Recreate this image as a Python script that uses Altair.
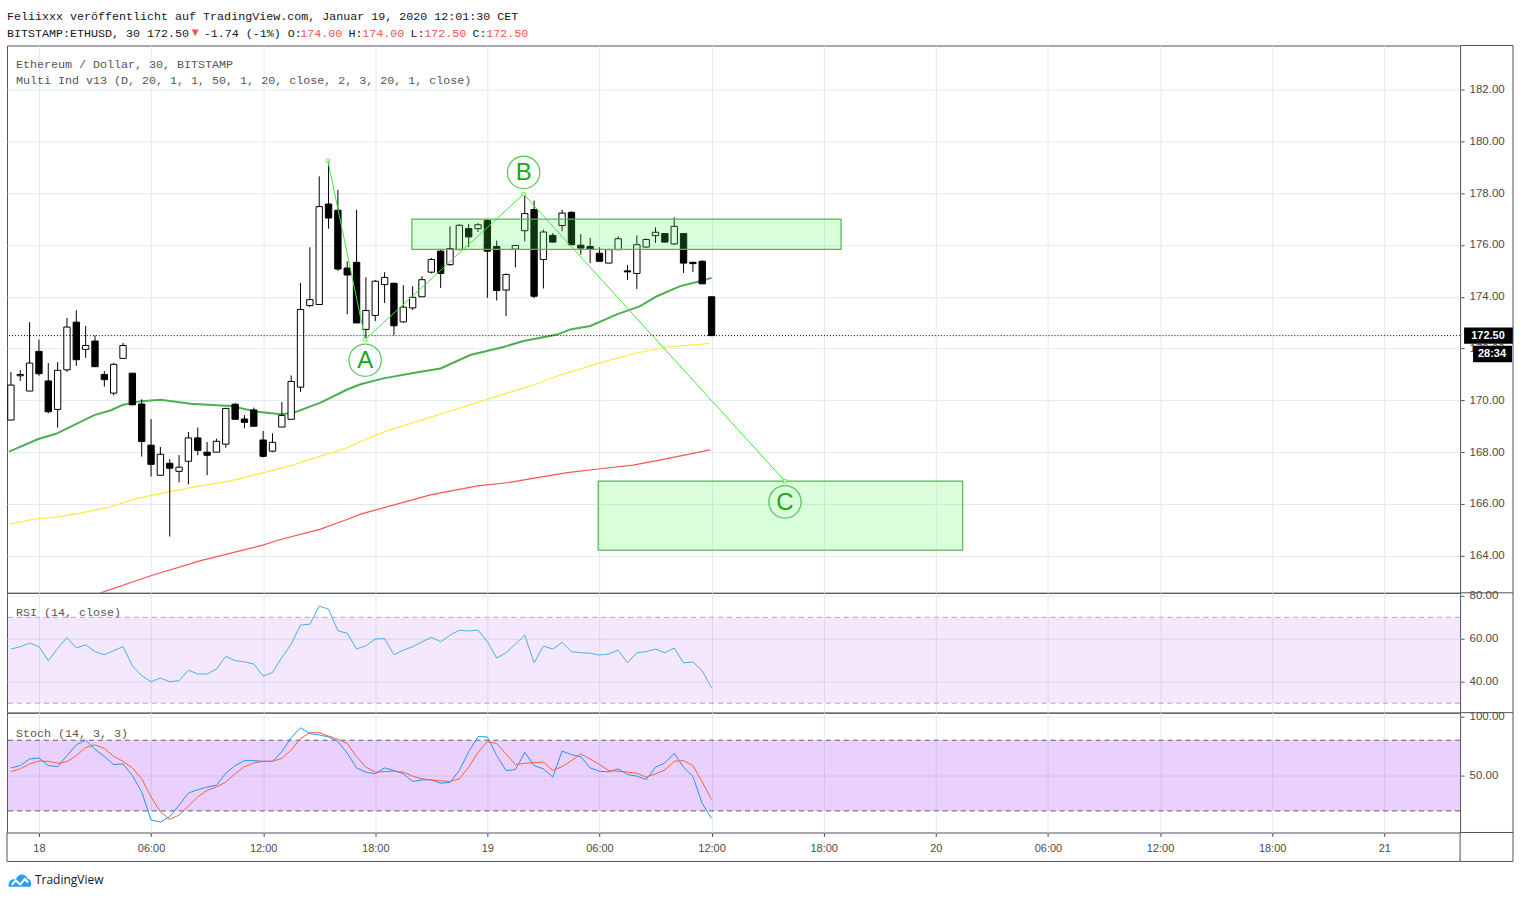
import altair as alt
import pandas as pd

# ---------------- DATA ----------------
# 30-minute candles, index relative to Jan 18 00:00 (i = -3 .. 72)
candle_idx = list(range(-3, 73))
opens = [169.24, 170.95, 170.36, 171.89, 170.75, 169.65, 171.18, 173.02, 171.97, 172.29,
         171.0, 170.28, 171.62, 171.05, 169.86, 168.27, 167.11, 167.57, 167.26, 167.65,
         168.55, 168.0, 168.0, 168.31, 169.85, 169.28, 169.63, 168.47, 168.04, 168.97,
         169.27, 170.51, 173.66, 173.70, 177.58, 177.34, 175.11, 175.33, 172.74, 173.28,
         174.47, 174.52, 173.03, 173.57, 174.0, 174.95, 175.76, 175.24, 175.82, 176.63,
         176.63, 176.95, 175.94, 174.26, 175.84, 176.55, 177.37, 175.44, 176.37, 176.75,
         177.26, 175.99, 175.94, 175.68, 175.3, 175.82, 175.0, 174.9, 175.92, 176.36,
         176.44, 176.04, 176.44, 175.33, 175.37, 174.0]
highs = [171.09, 171.17, 173.02, 172.35, 171.44, 171.48, 173.18, 173.48, 172.87, 172.51,
         171.13, 171.45, 172.22, 171.05, 170.04, 169.28, 168.2, 167.73, 167.89, 168.78,
         168.95, 168.39, 168.52, 169.7, 169.9, 169.43, 169.72, 168.82, 168.73, 169.94,
         170.96, 174.53, 175.91, 178.65, 179.26, 178.13, 175.37, 177.36, 174.75, 174.65,
         174.95, 174.55, 174.45, 174.41, 174.79, 175.5, 175.8, 176.72, 176.8, 176.81,
         176.85, 177.0, 176.17, 174.9, 176.0, 177.96, 177.71, 176.59, 176.46, 177.36,
         177.3, 176.42, 176.27, 175.91, 175.85, 176.33, 175.22, 176.37, 176.25, 176.68,
         176.45, 177.07, 176.45, 175.35, 175.41, 174.0]
lows = [169.24, 170.75, 170.36, 170.95, 169.5, 168.95, 171.1, 171.33, 171.64, 171.3,
        170.53, 170.19, 171.6, 169.8, 167.83, 167.06, 167.1, 164.74, 166.83, 166.76,
        167.88, 167.11, 168.0, 168.17, 169.27, 168.92, 169.0, 167.8, 168.0, 168.97,
        169.27, 170.33, 173.6, 173.7, 176.63, 175.0, 173.32, 172.99, 172.35, 173.06,
        173.76, 172.51, 173.0, 173.49, 174.0, 174.9, 174.34, 175.2, 175.8, 175.92,
        176.5, 173.96, 173.86, 173.25, 175.14, 176.14, 173.95, 174.32, 176.1, 176.53,
        176.0, 175.63, 175.3, 175.37, 175.3, 175.8, 174.65, 174.3, 175.9, 176.08,
        176.1, 176.0, 174.92, 174.96, 174.5, 172.5]
closes = [170.59, 171.0, 171.44, 171.03, 169.56, 171.16, 172.83, 171.57, 172.12, 171.30,
          170.8, 171.39, 172.12, 169.83, 168.41, 167.53, 167.92, 167.38, 167.42, 168.55,
          168.07, 167.88, 168.42, 169.69, 169.27, 169.15, 169.0, 167.84, 168.38, 169.42,
          170.73, 173.51, 173.89, 177.48, 177.04, 175.07, 174.84, 172.99, 173.47, 174.6,
          174.75, 172.88, 173.6, 173.98, 174.66, 175.44, 174.9, 175.86, 176.76, 176.31,
          176.78, 175.76, 174.24, 174.86, 175.98, 177.21, 174.02, 176.5, 176.11, 177.23,
          176.01, 175.88, 175.84, 175.37, 175.82, 176.24, 174.96, 176.01, 176.21, 176.49,
          176.11, 176.72, 175.3, 175.28, 174.5, 172.5]

# moving averages (hours from Jan 18 00:00, price)
ma_green_t = [-1.6, -0.07, 0.91, 1.98, 2.96, 3.85, 4.47, 5.45, 6.52, 8.12, 10.26, 11.69, 12.94,
              13.63, 15.07, 16.5, 17.21, 18.44, 20.04, 21.49, 23.09, 24.86, 25.93, 27.74, 28.44,
              29.51, 30.93, 32.18, 33.07, 34.32, 35.39, 36.0]
ma_green_v = [168.02, 168.5, 168.71, 169.08, 169.43, 169.62, 169.82, 169.97, 170.02, 169.87, 169.78,
              169.56, 169.46, 169.52, 169.91, 170.42, 170.62, 170.85, 171.06, 171.23, 171.75, 172.06,
              172.29, 172.54, 172.74, 172.87, 173.32, 173.64, 174.02, 174.41, 174.6, 174.73]
ma_yellow_t = [-1.6, -0.27, 1.0, 2.07, 3.85, 5.08, 6.34, 8.12, 10.26, 12.03, 13.63, 15.07, 16.5,
               17.21, 18.64, 22.02, 23.98, 26.83, 27.73, 30.04, 31.8, 33.62, 35.92]
ma_yellow_v = [165.22, 165.41, 165.5, 165.63, 165.89, 166.19, 166.38, 166.63, 166.89, 167.21, 167.51,
               167.85, 168.17, 168.41, 168.82, 169.59, 170.04, 170.68, 170.94, 171.45, 171.8, 172.06,
               172.2]
ma_red_t = [2.78, 3.31, 5.99, 8.66, 12.03, 12.78, 15.07, 16.52, 17.21, 19.35, 20.95, 23.47, 25.07,
            26.67, 28.28, 30.04, 31.8, 33.62, 35.92]
ma_red_v = [162.42, 162.57, 163.23, 163.81, 164.42, 164.6, 165.03, 165.41, 165.61, 166.03, 166.35,
            166.7, 166.82, 167.02, 167.21, 167.36, 167.5, 167.75, 168.09]

rsi = [55.2, 56.3, 58.0, 56.3, 49.8, 55.5, 60.6, 55.7, 57.2, 54.0,
       52.6, 54.4, 56.4, 47.4, 42.8, 40.0, 41.7, 40.0, 40.5, 45.4,
       43.6, 43.6, 45.9, 51.8, 49.8, 49.3, 48.2, 42.6, 44.3, 51.3,
       57.5, 66.4, 66.8, 75.2, 73.8, 63.7, 62.6, 55.3, 56.7, 59.9,
       60.1, 52.6, 54.7, 56.3, 58.6, 60.6, 58.6, 61.7, 64.0, 63.6,
       64.0, 58.6, 51.0, 53.5, 57.5, 61.7, 48.8, 56.6, 55.2, 58.3,
       54.0, 53.5, 53.3, 52.4, 52.9, 54.7, 48.8, 53.5, 54.0, 55.2,
       53.5, 55.7, 48.8, 49.2, 45.1, 37.1]
stoch_k = [56.5, 58.5, 64.1, 64.9, 58.5, 57.6, 66.9, 76.1, 80.0, 72.4,
           66.3, 59.3, 59.9, 50.1, 36.1, 12.3, 10.6, 15.1, 24.9, 35.2,
           38.0, 40.3, 41.7, 52.0, 58.5, 62.7, 62.7, 62.1, 62.1, 70.2,
           82.2, 90.6, 85.6, 84.5, 82.8, 78.9, 69.1, 56.4, 52.9, 51.5,
           56.5, 54.3, 51.5, 45.0, 46.4, 46.4, 43.6, 44.2, 54.3, 70.2,
           83.1, 82.8, 66.9, 54.3, 55.1, 69.7, 58.5, 55.7, 48.7, 70.8,
           67.7, 66.0, 56.5, 53.7, 53.1, 55.7, 50.9, 49.5, 46.7, 57.1,
           60.7, 68.8, 57.1, 49.2, 26.3, 13.7]
stoch_d = [53.4, 55.7, 59.9, 62.4, 62.1, 60.4, 61.8, 66.9, 73.8, 76.1,
           73.0, 66.3, 62.1, 56.5, 47.3, 31.9, 19.3, 12.9, 16.5, 24.1,
           31.9, 37.5, 40.3, 44.5, 51.5, 57.6, 60.7, 62.1, 62.1, 64.6,
           71.6, 81.4, 86.4, 86.4, 83.6, 80.8, 77.2, 66.0, 57.1, 52.9,
           53.4, 53.7, 52.9, 49.5, 47.3, 46.2, 45.6, 45.0, 47.3, 57.1,
           69.7, 78.9, 77.2, 68.3, 59.3, 60.4, 61.0, 61.5, 54.3, 57.6,
           62.7, 68.3, 64.1, 59.3, 54.3, 53.7, 52.9, 52.0, 48.7, 51.5,
           54.8, 62.1, 62.7, 58.5, 44.5, 29.7]

# drawings (hours, price)
abc_t = [15.46, 17.46, 25.94, 39.93]
abc_p = [179.26, 172.35, 177.96, 166.88]
label_txt = ["A", "B", "C"]
label_t = [17.46, 25.94, 39.93]
label_p = [171.55, 178.8, 166.08]
box_t0 = [19.96, 29.93]
box_t1 = [42.93, 49.44]
box_p0 = [175.83, 164.22]
box_p1 = [177.0, 166.88]
last_price = 172.5

price_ticks = [164, 166, 168, 170, 172, 174, 176, 178, 180, 182]
time_ticks = [0, 6, 12, 18, 24, 30, 36, 42, 48, 54, 60, 66, 72]

# ---------------- LAYOUT / STYLE ----------------
W = 1455
H_MAIN = 548
H_IND = 120
R = 1508  # outer right frame (relative to plot left)
FRAME = "#50535e"
GRID = "#e3eaf0"
MONO = "Liberation Mono"
SANS = "Liberation Sans"
MONO_SIZE = 11.7

x_dom = [-1.71, 76.06]
xs = alt.Scale(domain=x_dom, nice=False, zero=False)
xa_hidden = alt.Axis(values=time_ticks, labels=False, ticks=False, domain=False, grid=True,
                     gridColor=GRID, title=None)
label_expr = ("datum.value % 24 == 0 ? format(18 + datum.value / 24, 'd') : "
              "(datum.value % 24 < 10 ? '0' : '') + format(datum.value % 24, 'd') + ':00'")
xa_bottom = alt.Axis(values=time_ticks, labelExpr=label_expr, grid=True, gridColor=GRID,
                     ticks=True, tickSize=4, tickColor=FRAME, labelColor="#4b4b4b",
                     labelFontSize=11, labelFont=SANS, labelPadding=6, domain=False,
                     title=None, labelFlush=False)


def yaxis(vals):
    return alt.Axis(orient="right", values=vals, format=".2f", grid=True, gridColor=GRID,
                    tickSize=4, tickColor=FRAME, labelColor="#4b4b4b", labelFontSize=11.5,
                    labelFont=SANS, labelPadding=5, domain=False, title=None)


ys_main = alt.Scale(domain=[162.57, 183.70], nice=False, zero=False)
ya_main = yaxis(price_ticks)
ys_rsi = alt.Scale(domain=[25.6, 81.4], nice=False, zero=False)
ya_rsi = yaxis([40, 60, 80])
ys_st = alt.Scale(domain=[1.69, 103.39], nice=False, zero=False)
ya_st = yaxis([50, 100])

dummy = pd.DataFrame({"a": [0]})


def rule(x0, y0, x1=None, y1=None):
    enc = {"x": alt.value(x0), "y": alt.value(y0)}
    if x1 is not None:
        enc["x2"] = alt.value(x1)
    if y1 is not None:
        enc["y2"] = alt.value(y1)
    return alt.Chart(dummy).mark_rule(color=FRAME, strokeWidth=1).encode(**enc)


# ---------------- MAIN PANEL ----------------
cdf = pd.DataFrame({"i": candle_idx, "o": opens, "h": highs, "l": lows, "c": closes})
cdf["t"] = cdf["i"] * 0.5
cdf["t0"] = cdf["t"] - 0.17
cdf["t1"] = cdf["t"] + 0.17
cdf["blo"] = cdf[["o", "c"]].min(axis=1)
cdf["bhi"] = cdf[["o", "c"]].max(axis=1)
cdf["dir"] = ["up" if c > o else "down" for o, c in zip(cdf["o"], cdf["c"])]


def xm(f, axis=xa_hidden):
    return alt.X(f, type="quantitative", scale=xs, axis=axis)


def ym(f):
    return alt.Y(f, type="quantitative", scale=ys_main, axis=ya_main)


def ma_layer(ts, vs, color, width):
    d = pd.DataFrame({"t": ts, "v": vs})
    return alt.Chart(d).mark_line(color=color, strokeWidth=width, clip=True).encode(
        x=xm("t"), y=ym("v"))


wicks = alt.Chart(cdf).mark_rule(color="black", strokeWidth=1).encode(
    x=xm("t"), y=ym("l"), y2="h")
bodies = alt.Chart(cdf).mark_rect(stroke="black", strokeWidth=1).encode(
    x=xm("t0"), x2="t1", y=ym("blo"), y2="bhi",
    fill=alt.Fill("dir:N", scale=alt.Scale(domain=["up", "down"], range=["#ffffff", "#000000"]),
                  legend=None))
last_df = pd.DataFrame({"p": [last_price], "hi": [last_price + 0.31], "lo": [last_price - 0.31],
                        "p2": [last_price - 0.72], "hi2": [last_price - 0.39], "lo2": [last_price - 1.03],
                        "txt": [f"{last_price:.2f}"], "txt2": ["28:34"]})
last_line = alt.Chart(last_df).mark_rule(color="black", strokeWidth=1, strokeDash=[1, 2]).encode(
    y=ym("p"))
boxes = alt.Chart(pd.DataFrame({"t0": box_t0, "t1": box_t1, "p0": box_p0, "p1": box_p1})).mark_rect(
    fill="#4cff4c", fillOpacity=0.2, stroke="#58b258", strokeWidth=1.2).encode(
    x=xm("t0"), x2="t1", y=ym("p0"), y2="p1")
abc_df = pd.DataFrame({"t": abc_t, "p": abc_p, "k": list(range(len(abc_t)))})
abc_line = alt.Chart(abc_df).mark_line(color="#3be83b", strokeWidth=1).encode(
    x=xm("t"), y=ym("p"), order="k:Q")
abc_pts = alt.Chart(abc_df).mark_point(shape="square", size=12, filled=True, fill="white",
                                       stroke="#3be83b", strokeWidth=1).encode(x=xm("t"), y=ym("p"))
lab_df = pd.DataFrame({"t": label_t, "p": label_p, "txt": label_txt})
circles = alt.Chart(lab_df).mark_point(shape="circle", size=1050, filled=False, stroke="#22b322",
                                       strokeWidth=1.3).encode(x=xm("t"), y=ym("p"))
letters = alt.Chart(lab_df).mark_text(fontSize=24, color="#15a815", font=SANS,
                                      baseline="middle", align="center", dy=1).encode(
    x=xm("t"), y=ym("p"), text="txt:N")
legend_main = alt.Chart(pd.DataFrame({"y": [18, 35], "txt": [
    "Ethereum / Dollar, 30, BITSTAMP",
    "Multi Ind v13 (D, 20, 1, 1, 50, 1, 20, close, 2, 3, 20, 1, close)"]})).mark_text(
    font=MONO, fontSize=MONO_SIZE, color="#555555", align="left", baseline="middle").encode(
    x=alt.value(9), y=alt.Y("y:Q", scale=None), text="txt:N")
pbox = alt.Chart(last_df).mark_rect(fill="black").encode(
    x=alt.value(W + 4), x2=alt.value(R), y=ym("hi"), y2="lo")
pbox2 = alt.Chart(last_df).mark_rect(fill="black").encode(
    x=alt.value(W + 13), x2=alt.value(R - 1), y=ym("hi2"), y2="lo2")
ptxt = alt.Chart(last_df).mark_text(color="white", font=SANS, fontSize=11, fontWeight="bold",
                                    align="center", baseline="middle").encode(
    x=alt.value(W + 28), y=ym("p"), text="txt:N")
ptxt2 = alt.Chart(last_df).mark_text(color="white", font=SANS, fontSize=11, fontWeight="bold",
                                     align="center", baseline="middle").encode(
    x=alt.value(W + 32), y=ym("p2"), text="txt2:N")

main = alt.layer(
    ma_layer(ma_red_t, ma_red_v, "#ff5252", 1.2),
    ma_layer(ma_yellow_t, ma_yellow_v, "#ffeb3b", 1.2),
    ma_layer(ma_green_t, ma_green_v, "#4caf50", 2),
    wicks, bodies, last_line, boxes, abc_line, abc_pts, circles, letters, legend_main,
    pbox, pbox2, ptxt, ptxt2,
    rule(W, 0, R), rule(R, 0, None, H_MAIN), rule(W, H_MAIN, R),
).properties(width=W, height=H_MAIN)

# ---------------- RSI PANEL ----------------
tind = [i * 0.5 for i in candle_idx]
rdf = pd.DataFrame({"t": tind, "v": rsi})


def yr(f):
    return alt.Y(f, type="quantitative", scale=ys_rsi, axis=ya_rsi)


band_r = alt.Chart(pd.DataFrame({"a": [x_dom[0]], "b": [x_dom[1]], "lo": [30], "hi": [70]})).mark_rect(
    fill="#a32fee", opacity=0.11).encode(x=xm("a"), x2="b", y=yr("lo"), y2="hi")
lv_r = pd.DataFrame({"v": [30, 70]})
dash_r = alt.Chart(lv_r).mark_rule(color="#b3a6bd", strokeWidth=1, strokeDash=[5, 4]).encode(y=yr("v"))
rsi_line = alt.Chart(rdf).mark_line(color="#45b2e5", strokeWidth=1).encode(x=xm("t"), y=yr("v"))
rsi_lab = alt.Chart(dummy).mark_text(font=MONO, fontSize=MONO_SIZE, color="#555555", align="left",
                                     baseline="middle", text="RSI (14, close)").encode(
    x=alt.value(9), y=alt.value(19))
rsi_panel = alt.layer(band_r, dash_r, rsi_line, rsi_lab,
                      rule(R, 0, None, H_IND), rule(W, H_IND, R)).properties(width=W, height=H_IND)

# ---------------- STOCH PANEL ----------------
sdf = pd.DataFrame({"t": tind, "k": stoch_k, "d": stoch_d})


def yst(f):
    return alt.Y(f, type="quantitative", scale=ys_st, axis=ya_st)


def xb(f):
    return xm(f, axis=xa_bottom)


band_s = alt.Chart(pd.DataFrame({"a": [x_dom[0]], "b": [x_dom[1]], "lo": [20], "hi": [80]})).mark_rect(
    fill="#a73bf7", opacity=0.24).encode(x=xb("a"), x2="b", y=yst("lo"), y2="hi")
dash_s = alt.Chart(pd.DataFrame({"v": [20, 80]})).mark_rule(
    color="#5d5868", strokeWidth=1, strokeDash=[5, 4]).encode(y=yst("v"))
k_line = alt.Chart(sdf).mark_line(color="#2196f3", strokeWidth=1).encode(x=xb("t"), y=yst("k"))
d_line = alt.Chart(sdf).mark_line(color="#f4603e", strokeWidth=1).encode(x=xb("t"), y=yst("d"))
st_lab = alt.Chart(dummy).mark_text(font=MONO, fontSize=MONO_SIZE, color="#555555", align="left",
                                    baseline="middle", text="Stoch (14, 3, 3)").encode(
    x=alt.value(9), y=alt.value(20))
AX = 29
logo_cloud = alt.Chart(dummy).mark_point(
    shape="M-1,0.55 C-1.05,0.05 -0.7,-0.2 -0.38,-0.05 C-0.22,-0.62 0.45,-0.72 0.66,-0.15 "
          "C0.98,-0.12 1.08,0.3 0.92,0.55 Z",
    size=520, filled=True, fill="#2a9df4", strokeWidth=0, opacity=1).encode(
    x=alt.value(13), y=alt.value(H_IND + AX + 19))
logo_zig = alt.Chart(dummy).mark_point(
    shape="M-0.72,0.38 L-0.36,0.0 L0.02,0.36 L0.42,-0.12 L0.72,0.18",
    size=520, filled=False, stroke="white", strokeWidth=2, opacity=1).encode(
    x=alt.value(13), y=alt.value(H_IND + AX + 19))
logo_txt = alt.Chart(dummy).mark_text(font="Open Sans", fontSize=12, color="#131722", align="left",
                                      baseline="middle", text="TradingView").encode(
    x=alt.value(28), y=alt.value(H_IND + AX + 19))
stoch_panel = alt.layer(
    band_s, dash_s, k_line, d_line, st_lab,
    rule(R, 0, None, H_IND + AX), rule(0, H_IND, None, H_IND + AX), rule(W, H_IND, None, H_IND + AX),
    rule(W, H_IND, R), rule(0, H_IND + AX, R),
    logo_cloud, logo_zig, logo_txt,
).properties(width=W, height=H_IND)

# ---------------- HEADER ----------------
CW = 6.9
segs = []
line1 = "Feliixxx veröffentlicht auf TradingView.com, Januar 19, 2020 12:01:30 CET"
segs.append((line1, "#131722", 0.0, 14))
segs.append(("BITSTAMP:ETHUSD, 30 172.50", "#131722", 0.0, 31))
segs.append(("▼", "#ef5350", 185.0, 30))
x2 = 197.0
parts = [("-1.74 (-1%) O:", "#131722"), ("174.00", "#ef5350"), (" H:", "#131722"),
         ("174.00", "#ef5350"), (" L:", "#131722"), ("172.50", "#ef5350"),
         (" C:", "#131722"), ("172.50", "#ef5350")]
for txt, col in parts:
    lead = len(txt) - len(txt.lstrip(" "))
    segs.append((txt.strip(), col, x2 + lead * CW, 31))
    x2 += len(txt) * CW
hdf = pd.DataFrame(segs, columns=["txt", "col", "px", "py"])
header = alt.Chart(hdf).mark_text(font=MONO, fontSize=MONO_SIZE, align="left", baseline="middle").encode(
    x=alt.X("px:Q", scale=None), y=alt.Y("py:Q", scale=None), text="txt:N",
    color=alt.Color("col:N", scale=None)).properties(
    width=W, height=44, view=alt.ViewBackground(stroke="transparent"))

chart = alt.vconcat(header, main, rsi_panel, stoch_panel, spacing=0, bounds="flush").properties(
    padding={"left": 6, "top": 0, "right": 7, "bottom": 8}, background="white"
).configure_view(stroke=FRAME, strokeWidth=1)

chart.save("out.html", embed_options={"renderer": "svg", "actions": False})
